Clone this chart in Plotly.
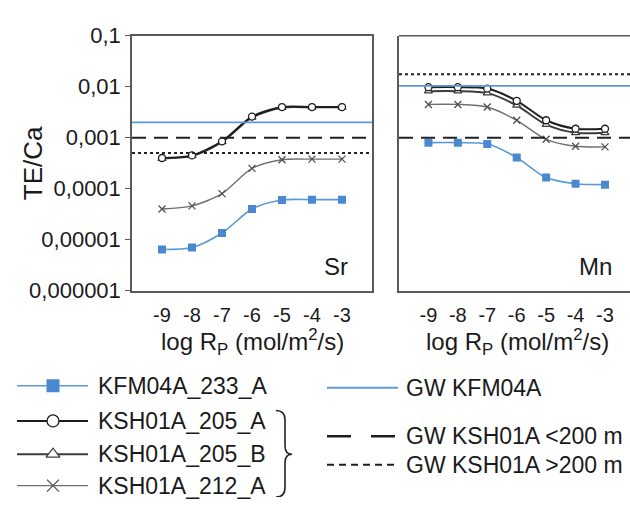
import plotly.graph_objects as go

# ---------------- data ----------------
log_rp = [-9, -8, -7, -6, -5, -4, -3]

sr_kfm04a_233_a = [6.4e-6, 7.0e-6, 1.35e-5, 4.0e-5, 6.0e-5, 6.1e-5, 6.1e-5]
sr_ksh01a_205_a = [4.0e-4, 4.5e-4, 8.5e-4, 2.6e-3, 4.0e-3, 4.0e-3, 4.0e-3]
sr_ksh01a_205_b = [3.9e-4, 4.4e-4, 8.3e-4, 2.5e-3, 3.9e-3, 3.95e-3, 3.95e-3]
sr_ksh01a_212_a = [4.0e-5, 4.6e-5, 8.0e-5, 2.5e-4, 3.7e-4, 3.8e-4, 3.8e-4]

mn_kfm04a_233_a = [8.0e-4, 8.0e-4, 7.5e-4, 4.1e-4, 1.65e-4, 1.25e-4, 1.2e-4]
mn_ksh01a_205_a = [9.8e-3, 9.8e-3, 9.2e-3, 5.3e-3, 2.2e-3, 1.5e-3, 1.5e-3]
mn_ksh01a_205_b = [8.2e-3, 8.2e-3, 7.5e-3, 4.3e-3, 1.8e-3, 1.25e-3, 1.25e-3]
mn_ksh01a_212_a = [4.5e-3, 4.5e-3, 4.0e-3, 2.2e-3, 9.3e-4, 6.8e-4, 6.6e-4]

# groundwater reference levels (Sr, Mn)
gw_kfm04a = [2.0e-3, 1.04e-2]
gw_ksh01a_lt200 = [1.0e-3, 1.0e-3]
gw_ksh01a_gt200 = [5.0e-4, 1.75e-2]

panel_names = ["Sr", "Mn"]
y_tick_vals = [1e-6, 1e-5, 1e-4, 1e-3, 1e-2, 1e-1]
y_tick_text = ["0,000001", "0,00001", "0,0001", "0,001", "0,01", "0,1"]
x_title = "log R<sub>P</sub> (mol/m<sup>2</sup>/s)"
y_title = "TE/Ca"

series_names = ["KFM04A_233_A", "KSH01A_205_A", "KSH01A_205_B", "KSH01A_212_A"]
gw_names = ["GW KFM04A", "GW KSH01A <200 m", "GW KSH01A >200 m"]

# ---------------- styles ----------------
W, H = 630, 510
FONT = "Liberation Sans, Arial, sans-serif"
TXT = "#1a1a1a"
FRAME = "#5a5a5a"
BLUE_L = "#5b9bd5"
BLUE_M = "#4a88d2"

styles = [
    dict(line=dict(color=BLUE_L, width=1.6), marker=dict(symbol="square", size=8, color=BLUE_M)),
    dict(line=dict(color="#1e1e1e", width=2.0),
         marker=dict(symbol="circle", size=7, color="white", line=dict(color="#1e1e1e", width=1.3))),
    dict(line=dict(color="#3c3c3c", width=2.0),
         marker=dict(symbol="triangle-up", size=7, color="white", line=dict(color="#3c3c3c", width=1.3))),
    dict(line=dict(color="#707070", width=1.4),
         marker=dict(symbol="x-thin", size=7, color="#505050", line=dict(color="#505050", width=1.3))),
]

def fx(p):
    return p / W

def fy(p):
    return 1 - p / H

fig = go.Figure()

sr_data = [sr_kfm04a_233_a, sr_ksh01a_205_a, sr_ksh01a_205_b, sr_ksh01a_212_a]
mn_data = [mn_kfm04a_233_a, mn_ksh01a_205_a, mn_ksh01a_205_b, mn_ksh01a_212_a]

for pi, (data, xa, ya) in enumerate([(sr_data, "x", "y"), (mn_data, "x2", "y2")]):
    xd = "x domain" if xa == "x" else "x2 domain"
    for val, dash, col, wid in [(gw_kfm04a[pi], "solid", BLUE_L, 1.6),
                                (gw_ksh01a_lt200[pi], "14px,8px", "#222222", 2.0),
                                (gw_ksh01a_gt200[pi], "3px,3px", "#222222", 2.0)]:
        fig.add_shape(type="line", xref=xd, yref=ya, x0=0, x1=1, y0=val, y1=val,
                      line=dict(color=col, width=wid, dash=dash), layer="above")
    for k in [3, 0, 2, 1]:
        st = styles[k]
        fig.add_trace(go.Scatter(x=log_rp, y=data[k], mode="lines+markers",
                                 line=dict(shape="spline", smoothing=0.8, **st["line"]),
                                 marker=st["marker"], xaxis=xa, yaxis=ya,
                                 showlegend=False, hoverinfo="skip"))

# ---------------- custom legend on an overlay pixel axis ----------------
leg_rows = [393, 430, 465, 498]
for k, (name, yy) in enumerate(zip(series_names, leg_rows)):
    st = styles[k]
    fig.add_trace(go.Scatter(x=[17, 88], y=[yy, yy], mode="lines", line=st["line"],
                             xaxis="x3", yaxis="y3", showlegend=False, hoverinfo="skip"))
    mk = dict(st["marker"])
    mk["size"] = 13 if k == 0 else 12
    fig.add_trace(go.Scatter(x=[53], y=[yy], mode="markers", marker=mk,
                             xaxis="x3", yaxis="y3", showlegend=False, hoverinfo="skip"))

gw_rows = [395, 446, 476]
gw_styles = [dict(color=BLUE_L, width=2.0, dash="solid"),
             dict(color="#1e1e1e", width=2.5, dash="24px,20px"),
             dict(color="#1e1e1e", width=2.0, dash="7px,5px")]
for name, yy, ls in zip(gw_names, gw_rows, gw_styles):
    fig.add_trace(go.Scatter(x=[327, 398], y=[yy, yy], mode="lines", line=ls,
                             xaxis="x3", yaxis="y3", showlegend=False, hoverinfo="skip"))

# brace
fig.add_shape(type="path", xref="x3", yref="y3",
              path="M 276,419 Q 285,419 285,429 L 285,456 Q 285,465 292,465 "
                   "Q 285,465 285,474 L 285,500 Q 285,510 276,510",
              line=dict(color="#222222", width=1.6))

LEG_FS = 23
annotations = []
for name, yy in zip(series_names, leg_rows):
    annotations.append(dict(x=96, y=yy, xref="x3", yref="y3", text=name, showarrow=False,
                            xanchor="left", yanchor="middle", font=dict(size=LEG_FS, color=TXT)))
for name, yy in zip(gw_names, gw_rows):
    annotations.append(dict(x=404, y=yy, xref="x3", yref="y3", text=name, showarrow=False,
                            xanchor="left", yanchor="middle", font=dict(size=LEG_FS, color=TXT)))
for cx in [252, 517]:
    annotations.append(dict(x=cx, y=347, xref="x3", yref="y3", text=x_title, showarrow=False,
                            xanchor="center", yanchor="middle", font=dict(size=24, color=TXT)))
annotations.append(dict(x=33, y=159, xref="x3", yref="y3", text=y_title, showarrow=False,
                        textangle=-90, xanchor="center", yanchor="middle",
                        font=dict(size=26, color=TXT)))
annotations.append(dict(x=336, y=268, xref="x3", yref="y3", text=panel_names[0], showarrow=False,
                        xanchor="center", yanchor="middle", font=dict(size=24, color=TXT)))
annotations.append(dict(x=595, y=268, xref="x3", yref="y3", text=panel_names[1], showarrow=False,
                        xanchor="center", yanchor="middle", font=dict(size=24, color=TXT)))

fig.add_shape(type="line", xref="x2 domain", yref="y2 domain", x0=0, x1=1, y0=1, y1=1,
              line=dict(color=FRAME, width=1.5))

ydom = [fy(293), fy(25)]
common_x = dict(tickvals=log_rp, ticktext=[str(v) for v in log_rp], ticks="", showgrid=False,
                zeroline=False, showline=True, linecolor=FRAME, linewidth=1.5,
                tickfont=dict(size=20, color=TXT), ticklabelstandoff=6)
fig.update_layout(
    width=W, height=H, autosize=False,
    margin=dict(l=0, r=0, t=0, b=0),
    paper_bgcolor="white", plot_bgcolor="rgba(0,0,0,0)",
    font=dict(family=FONT, color=TXT),
    showlegend=False,
    xaxis=dict(domain=[fx(132), fx(372)], range=[-10, -2], anchor="y", mirror=True, **common_x),
    yaxis=dict(domain=ydom, type="log", range=[-6, -1], anchor="x", tickvals=y_tick_vals,
               ticktext=y_tick_text, ticks="outside", ticklen=5, tickcolor=FRAME,
               showgrid=False, zeroline=False, showline=True, mirror=True, linecolor=FRAME,
               linewidth=1.5, tickfont=dict(size=22, color=TXT)),
    xaxis2=dict(domain=[fx(399), 1.0], range=[-10, -2.15], anchor="y2", mirror=False, **common_x),
    yaxis2=dict(domain=ydom, type="log", range=[-6, -1], anchor="x2", showticklabels=False,
                ticks="", showgrid=False, zeroline=False, showline=True, mirror=False,
                linecolor=FRAME, linewidth=1.5),
    xaxis3=dict(domain=[0, 1], range=[0, W], anchor="y3", visible=False, fixedrange=True),
    yaxis3=dict(domain=[0, 1], range=[H, 0], anchor="x3", visible=False, fixedrange=True),
    annotations=annotations,
)

fig.write_html("out.html", config={"displayModeBar": False},
               post_script="document.body.style.margin='0px';")
